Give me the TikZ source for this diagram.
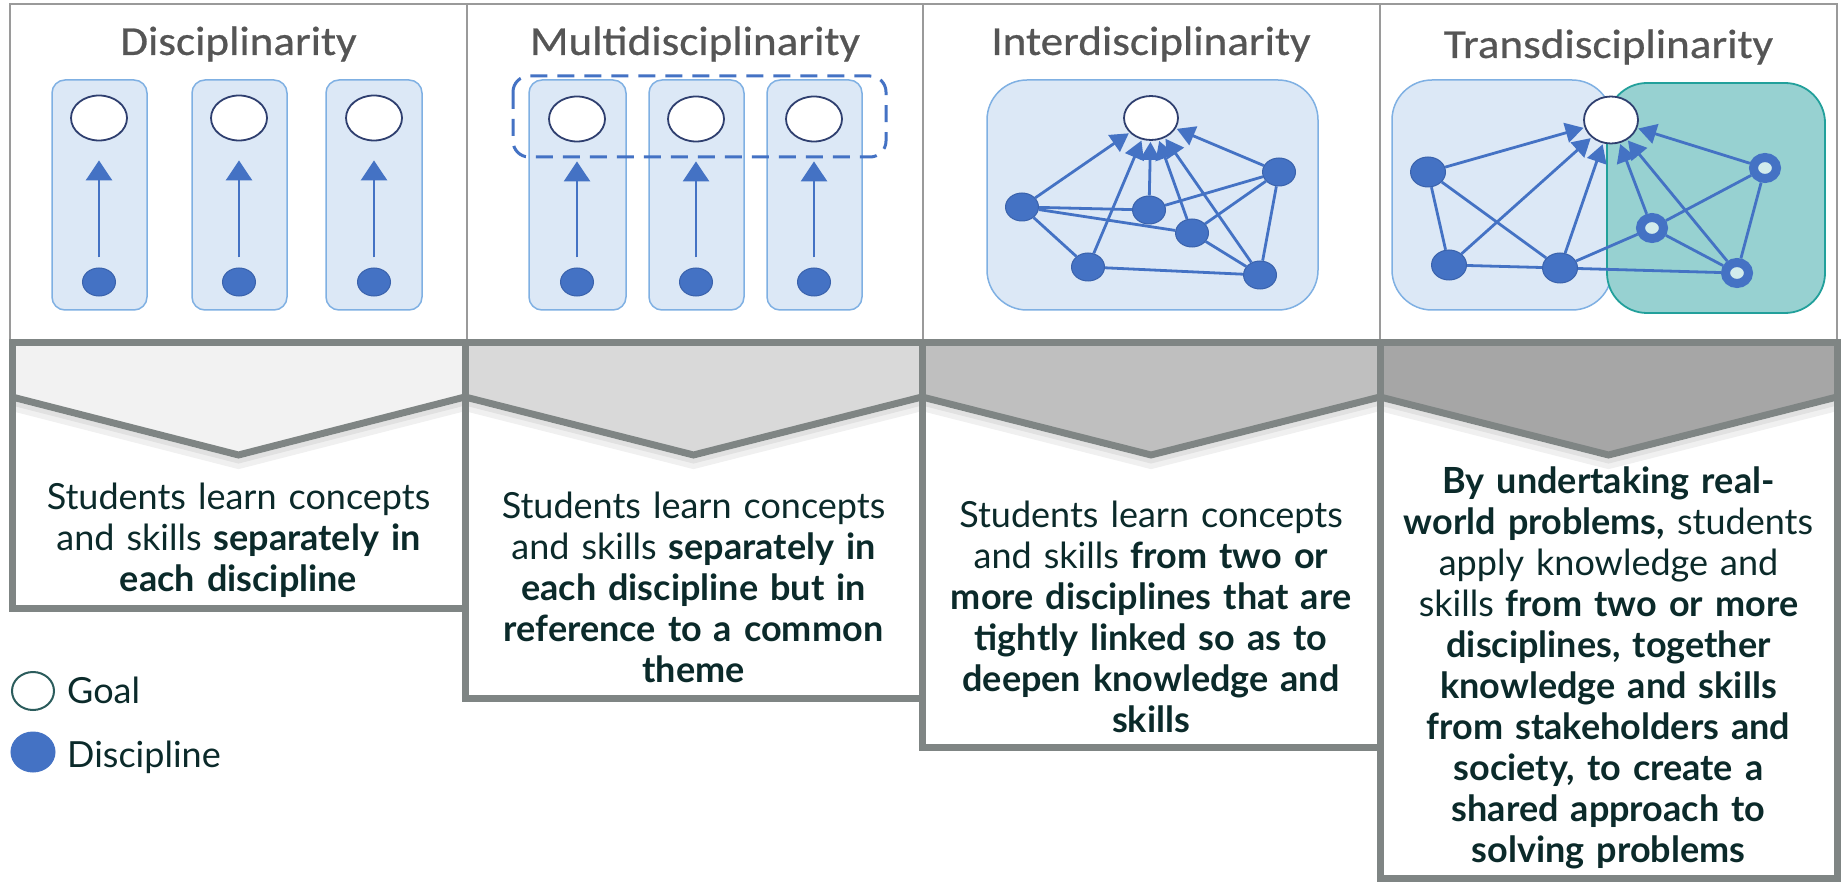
\documentclass[tikz,border=0pt]{standalone}
\usepackage{fontspec}
\setmainfont{Lato}
\newfontfamily\titlefont{Carlito}[FakeStretch=1.1, FakeBold=0.6]
\usetikzlibrary{shapes.geometric,arrows.meta}
\definecolor{blu}{HTML}{4472C4}
\definecolor{bluD}{HTML}{3A62AC}
\definecolor{boxfill}{HTML}{DCE8F6}
\definecolor{boxline}{HTML}{7FB0E3}
\definecolor{tealfill}{HTML}{97D1D1}
\definecolor{tealline}{HTML}{22A09B}
\definecolor{ringin}{HTML}{D2ECEC}
\definecolor{goalline}{HTML}{2F3F6F}
\definecolor{legline}{HTML}{2B5C5C}
\definecolor{txt}{HTML}{0B2A2A}
\definecolor{ttl}{HTML}{555555}
\definecolor{frm}{HTML}{7F8584}
\definecolor{topfrm}{HTML}{9A9A9A}
\definecolor{bandA}{HTML}{F2F2F2}
\definecolor{bandB}{HTML}{D9D9D9}
\definecolor{bandC}{HTML}{BFBFBF}
\definecolor{bandD}{HTML}{A6A6A6}
\begin{document}
\begin{tikzpicture}[x=1pt,y=-1pt,
  goal/.style={ellipse, draw=goalline, line width=1.8pt, fill=white, minimum width=56pt, minimum height=45pt, inner sep=0pt},
  disc/.style={ellipse, fill=blu, draw=bluD, line width=1pt, minimum width=33pt, minimum height=28pt, inner sep=0pt},
  ring/.style={ellipse, fill=ringin, draw=blu, line width=9pt, minimum width=23pt, minimum height=21pt, inner sep=0pt},
  dbox/.style={fill=boxfill, draw=boxline, line width=1.5pt, rounded corners=13pt},
  bigbox/.style={fill=boxfill, draw=boxline, line width=1.5pt, rounded corners=40pt},
  tealbox/.style={fill=tealfill, draw=tealline, line width=1.8pt, rounded corners=40pt},
  link/.style={draw=blu, line width=2.8pt},
  arr/.style={link, -{Triangle[length=20pt,width=26pt]}},
  arrs/.style={link, -{Triangle[length=18pt,width=20pt]}, shorten >=1pt},
  ttlstyle/.style={font=\titlefont\fontsize{41}{44}\selectfont, text=ttl, inner sep=0pt},
  body/.style={font=\fontsize{36}{41}\selectfont, text=txt, align=center, text width=450pt, inner sep=0pt},
  legtext/.style={font=\fontsize{36}{41}\selectfont, text=txt, inner sep=0pt},
  frame/.style={draw=frm, line width=7pt},
]
\useasboundingbox (0,0) rectangle (1841,882);
\fill[white] (0,0) rectangle (1841,882);

% ---------- top panel frame ----------
\draw[topfrm, line width=2.5pt] (10,4) rectangle (1837,343);
\draw[topfrm, line width=2.5pt] (467,4) -- (467,343) (923,4) -- (923,343) (1380,4) -- (1380,343);

% ---------- titles ----------
\node[ttlstyle] (h1) at (238.5,44) {Disciplinarity};
\node[ttlstyle] (h2) at (695,44) {Multidisciplinarity};
\node[ttlstyle] (h3) at (1151,44) {Interdisciplinarity};
\node[ttlstyle] (h4) at (1608.5,47) {Transdisciplinarity};

% ---------- column 1 ----------
\draw[dbox] (52,80) rectangle (147,310);
\draw[dbox] (192,80) rectangle (287,310);
\draw[dbox] (326,80) rectangle (422,310);
\node[goal] (g11) at (99,118) {};
\node[goal] (g12) at (239,118) {};
\node[goal] (g13) at (374,118) {};
\node[disc] (d11) at (99,282) {};
\node[disc] (d12) at (239,282) {};
\node[disc] (d13) at (374,282) {};
\draw[arr, shorten <=10pt, shorten >=19pt] (d11) -- (g11);
\draw[arr, shorten <=10pt, shorten >=19pt] (d12) -- (g12);
\draw[arr, shorten <=10pt, shorten >=19pt] (d13) -- (g13);

% ---------- column 2 ----------
\draw[dbox] (529,80) rectangle (626,310);
\draw[dbox] (649,80) rectangle (744,310);
\draw[dbox] (767,80) rectangle (862,310);
\node[goal] (g21) at (577,119) {};
\node[goal] (g22) at (696,119) {};
\node[goal] (g23) at (814,119) {};
\node[disc] (d21) at (577,282) {};
\node[disc] (d22) at (696,282) {};
\node[disc] (d23) at (814,282) {};
\draw[arr, shorten <=10pt, shorten >=19pt] (d21) -- (g21);
\draw[arr, shorten <=10pt, shorten >=19pt] (d22) -- (g22);
\draw[arr, shorten <=10pt, shorten >=19pt] (d23) -- (g23);
\draw[blu, line width=3pt, dash pattern=on 17pt off 10pt, rounded corners=16pt] (513,76) rectangle (886,157);

% ---------- column 3 ----------
\draw[bigbox] (987,80) rectangle (1318,310);
\node[goal, minimum width=54pt, minimum height=44pt] (ig) at (1151,118) {};
\node[disc] (iA) at (1022,207) {};
\node[disc] (iB) at (1149,210) {};
\node[disc] (iC) at (1279,172) {};
\node[disc] (iD) at (1192,233) {};
\node[disc] (iE) at (1088,267) {};
\node[disc] (iF) at (1260,275) {};
\draw[link] (iA) -- (iB);
\draw[link] (iA) -- (iD);
\draw[link] (iA) -- (iE);
\draw[link] (iB) -- (iC);
\draw[link] (iD) -- (iC);
\draw[link] (iD) -- (iF);
\draw[link] (iE) -- (iF);
\draw[link] (iC) -- (iF);
\draw[arrs] (iA) -- (ig);
\draw[arrs] (iB) -- (ig);
\draw[arrs] (iC) -- (ig);
\draw[arrs] (iD) -- (ig);
\draw[arrs] (iE) -- (ig);
\draw[arrs] (iF) -- (ig);

% ---------- column 4 ----------
\draw[bigbox] (1392,80) rectangle (1612,310);
\draw[tealbox] (1607,83) rectangle (1825,313);
\node[goal, minimum width=54pt, minimum height=47pt] (tg) at (1611,120) {};
\node[disc, minimum width=35pt, minimum height=30pt] (tP) at (1428,172) {};
\node[disc, minimum width=35pt, minimum height=30pt] (tQ) at (1449,265) {};
\node[disc, minimum width=35pt, minimum height=30pt] (tR) at (1560,268) {};
\node[ring] (tS) at (1765,168) {};
\node[ring] (tT) at (1652,228) {};
\node[ring] (tU) at (1737,273) {};
\draw[link] (tP) -- (tQ);
\draw[link] (tP) -- (tR);
\draw[link] (tQ) -- (tR);
\draw[link] (tR) -- (tT);
\draw[link] (tR) -- (tU);
\draw[link] (tT) -- (tS);
\draw[link] (tT) -- (tU);
\draw[link] (tS) -- (tU);
\draw[arrs] (tP) -- (tg);
\draw[arrs] (tQ) -- (tg);
\draw[arrs] (tR) -- (tg);
\draw[arrs] (tT) -- (tg);
\draw[arrs] (tU) -- (tg);
\draw[arrs] (tS) -- (tg);

% ---------- chevron band and text boxes ----------
\foreach \L/\C/\R/\B/\F in {12/238.5/465/608/bandA, 465/693.5/922/698/bandB, 922/1151/1380/747/bandC, 1380/1608.5/1837/878/bandD}{
  \fill[\F] (\L,343) -- (\R,343) -- (\R,397) -- (\C,455) -- (\L,397) -- cycle;
  \draw[black, opacity=0.06, line width=10pt] (\L,406) -- (\C,464) -- (\R,406);
  \draw[black, opacity=0.06, line width=5pt] (\L,403) -- (\C,461) -- (\R,403);
  \draw[frame] (\L,397) -- (\C,455) -- (\R,397);
  \draw[frame] (\L,343) rectangle (\R,\B);
}

% ---------- texts ----------
\node[body] (t1) at (238.5,540) {Students learn concepts\\and skills \textbf{separately in}\\\textbf{each discipline}};
\node[body] (t2) at (693.5,587) {Students learn concepts\\and skills \textbf{separately in}\\\textbf{each discipline but in}\\\textbf{reference to a common}\\\textbf{theme}};
\node[body] (t3) at (1151,617) {Students learn concepts\\and skills \textbf{from two or}\\\textbf{more disciplines that are}\\\textbf{tightly linked so as to}\\\textbf{deepen knowledge and}\\\textbf{skills}};
\node[body] (t4) at (1608.5,668) {\textbf{By undertaking real-}\\\textbf{world problems,} students\\apply knowledge and\\skills \textbf{from two or more}\\\textbf{disciplines, together}\\\textbf{knowledge and skills}\\\textbf{from stakeholders and}\\\textbf{society, to create a}\\\textbf{shared approach to}\\\textbf{solving problems}};

% ---------- legend ----------
\node[goal, draw=legline, line width=2pt, minimum width=42pt, minimum height=38pt] (lg) at (33,691) {};
\node[legtext, anchor=base west] (lgt) at (67,703) {Goal};
\node[disc, draw=blu, minimum width=44pt, minimum height=40pt] (ld) at (33,752) {};
\node[legtext, anchor=base west] (ldt) at (67,767) {Discipline};
\end{tikzpicture}
\end{document}
